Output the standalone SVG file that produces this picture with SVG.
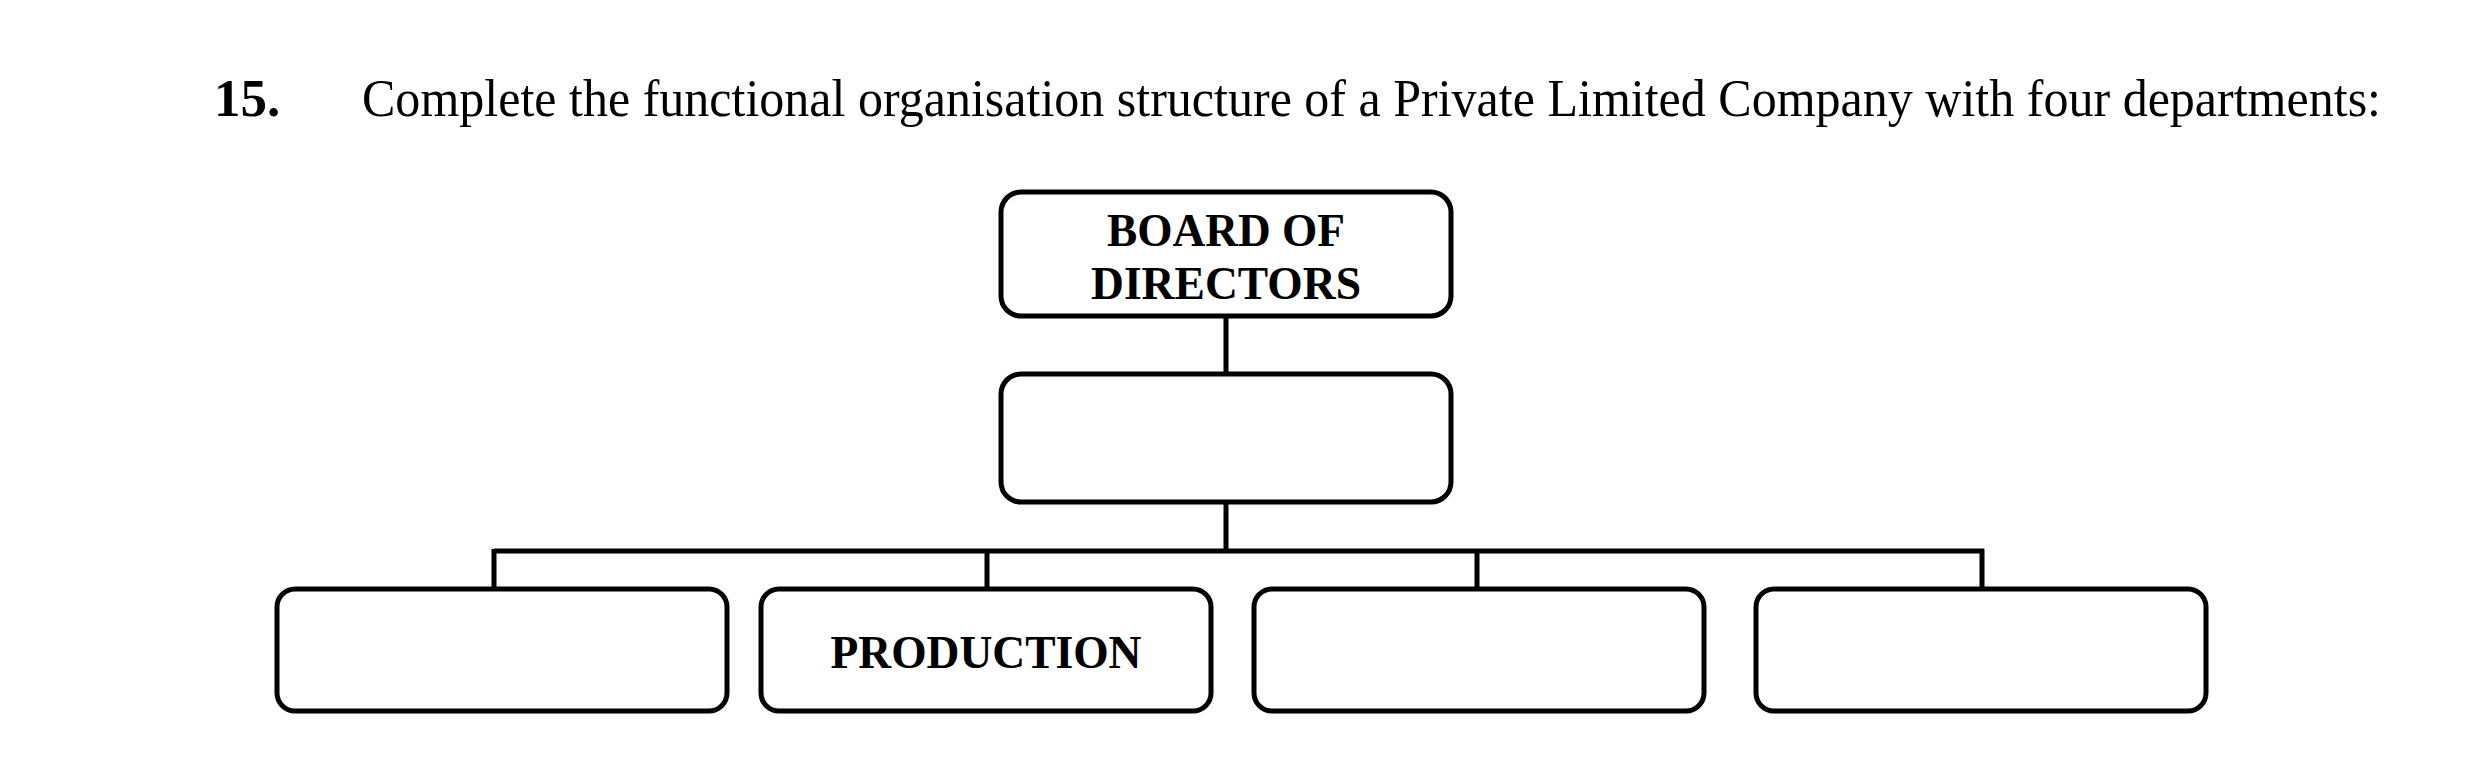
<svg xmlns="http://www.w3.org/2000/svg" width="2480" height="776" viewBox="0 0 2480 776">
<style>
.box{fill:#fff;stroke:#000;stroke-width:5}
.lbl{font-family:"Liberation Serif",serif;font-weight:bold;font-size:47px;text-anchor:middle;fill:#000}
.title{font-family:"Liberation Serif",serif;font-size:53px;fill:#000}
.conn{stroke:#000;stroke-width:5;fill:none}
</style>
<rect width="2480" height="776" fill="#fff"/>
<text class="title" x="214" y="116" font-weight="bold">15.</text>
<text class="title" x="362" y="116" textLength="2019" lengthAdjust="spacingAndGlyphs">Complete the functional organisation structure of a Private Limited Company with four departments:</text>
<g id="connectors">
<line class="conn" x1="1226" y1="316" x2="1226" y2="374"/>
<line class="conn" x1="1226" y1="502" x2="1226" y2="551"/>
<line class="conn" x1="494" y1="551" x2="1984" y2="551"/>
<line class="conn" x1="494" y1="549" x2="494" y2="589"/>
<line class="conn" x1="987" y1="549" x2="987" y2="589"/>
<line class="conn" x1="1477" y1="549" x2="1477" y2="589"/>
<line class="conn" x1="1982" y1="549" x2="1982" y2="589"/>
</g>
<g id="board"><rect class="box" x="1001" y="192" width="450" height="124" rx="20"/>
<text class="lbl" x="1226" y="246" textLength="238" lengthAdjust="spacingAndGlyphs">BOARD OF</text><text class="lbl" x="1226" y="299" textLength="270" lengthAdjust="spacingAndGlyphs">DIRECTORS</text></g>
<g id="md"><rect class="box" x="1001" y="374" width="450" height="128" rx="20"/></g>
<g id="dept1"><rect class="box" x="277" y="589" width="450" height="122" rx="18"/></g>
<g id="dept2"><rect class="box" x="761" y="589" width="450" height="122" rx="18"/>
<text class="lbl" x="986" y="668" textLength="311" lengthAdjust="spacingAndGlyphs">PRODUCTION</text></g>
<g id="dept3"><rect class="box" x="1254" y="589" width="450" height="122" rx="18"/></g>
<g id="dept4"><rect class="box" x="1756" y="589" width="450" height="122" rx="18"/></g>
</svg>
